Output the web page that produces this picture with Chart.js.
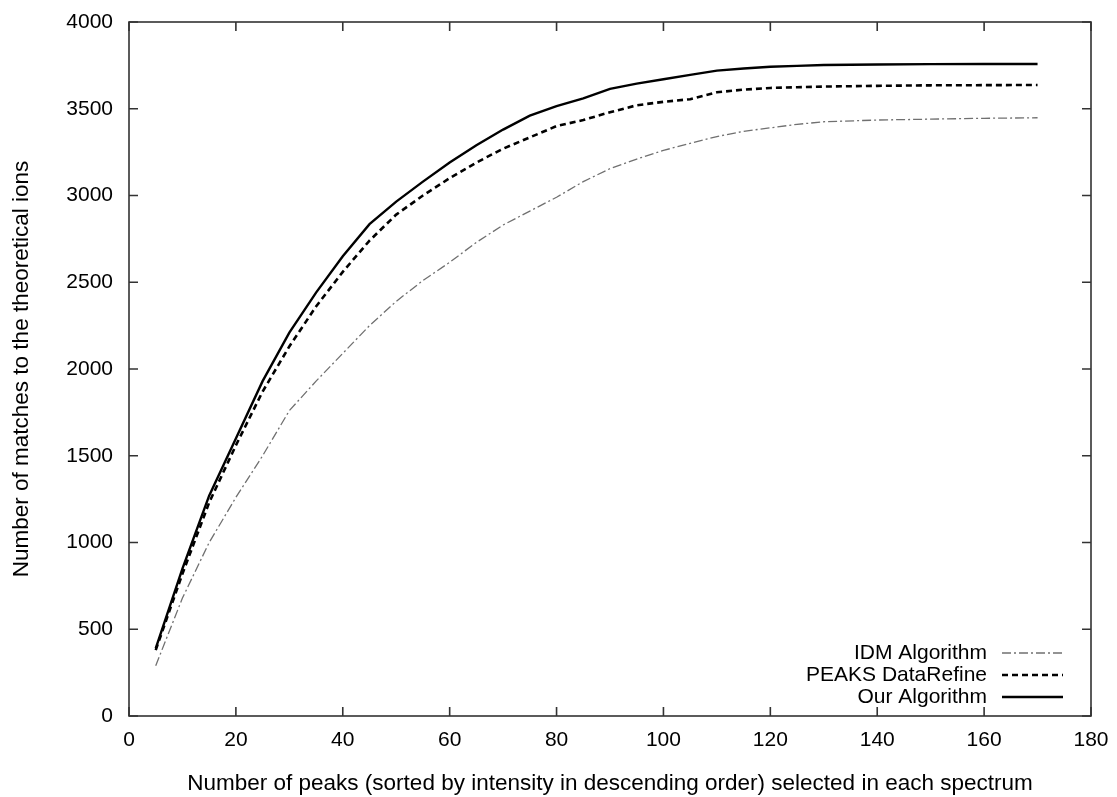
<!DOCTYPE html>
<html>
<head>
<meta charset="utf-8">
<script src="https://cdn.jsdelivr.net/npm/chart.js@4.4.1/dist/chart.umd.min.js"></script>
<style>
  html, body { margin: 0; padding: 0; background: #fff; }
  #wrap { width: 1117px; height: 797px; }
</style>
</head>
<body>
<div id="wrap"><canvas id="myChart"></canvas></div>
<script>
// data
const peaks = [5,10,15,20,25,30,35,40,45,50,55,60,65,70,75,80,85,90,95,100,105,110,115,120,125,130,140,150,160,170];

const idm = [290,680,1000,1260,1500,1760,1930,2090,2250,2390,2510,2615,2730,2830,2910,2990,3080,3155,3210,3260,3300,3340,3370,3390,3410,3425,3435,3440,3445,3448];
const peaksRefine = [380,820,1230,1560,1870,2130,2360,2560,2740,2890,3000,3100,3190,3270,3335,3400,3435,3480,3520,3540,3555,3595,3610,3620,3624,3628,3632,3635,3636,3637];
const ours = [390,850,1270,1600,1930,2210,2440,2650,2835,2965,3080,3190,3290,3380,3460,3515,3560,3615,3645,3670,3695,3720,3732,3742,3747,3752,3755,3757,3758,3758];

const xTicks = [0,20,40,60,80,100,120,140,160,180];
const yTicks = [0,500,1000,1500,2000,2500,3000,3500,4000];

const FONT = 'Liberation Sans, Arial, sans-serif';

function pts(ys) {
  return peaks.map((x, k) => ({x: x, y: ys[k]}));
}

const idm_dataset = {
  label: 'IDM Algorithm',
  data: pts(idm),
  borderColor: '#707070',
  borderWidth: 1.3,
  borderDash: [9, 3, 2, 3],
  pointRadius: 0,
  tension: 0
}

const peaks_dataset = {
  label: 'PEAKS DataRefine',
  data: pts(peaksRefine),
  borderColor: '#000',
  borderWidth: 2.6,
  borderDash: [6, 4],
  pointRadius: 0,
  tension: 0
}

const ours_dataset = {
  label: 'Our Algorithm',
  data: pts(ours),
  borderColor: '#000',
  borderWidth: 2.4,
  pointRadius: 0,
  tension: 0
}

// frame, inward ticks on all four sides, legend at lower right
const framePlugin = {
  id: 'frame',
  afterDatasetsDraw(chart) {
    const c = chart.ctx, a = chart.chartArea;
    const xs = chart.scales.x, ys = chart.scales.y;
    c.save();
    c.strokeStyle = '#333';
    c.lineWidth = 1.6;
    c.strokeRect(a.left, a.top, a.right - a.left, a.bottom - a.top);
    c.beginPath();
    xTicks.forEach(v => {
      const p = xs.getPixelForValue(v);
      c.moveTo(p, a.bottom); c.lineTo(p, a.bottom - 9);
      c.moveTo(p, a.top); c.lineTo(p, a.top + 9);
    });
    yTicks.forEach(v => {
      const p = ys.getPixelForValue(v);
      c.moveTo(a.left, p); c.lineTo(a.left + 9, p);
      c.moveTo(a.right, p); c.lineTo(a.right - 9, p);
    });
    c.stroke();

    // legend
    c.font = '21px ' + FONT;
    c.textAlign = 'right';
    c.textBaseline = 'middle';
    [0, 1, 2].forEach(k => {
      const ds = chart.data.datasets[k];
      const y = 653 + k * 22;
      c.fillStyle = '#000';
      c.fillText(ds.label, 987, y);
      c.beginPath();
      c.setLineDash(ds.borderDash || []);
      c.strokeStyle = ds.borderColor;
      c.lineWidth = ds.borderWidth;
      c.moveTo(1002, y); c.lineTo(1063, y);
      c.stroke();
    });
    c.restore();
  }
}

const ctx = document.getElementById('myChart');

const myChart = new Chart(ctx, {
  type: 'line',
  data: {
    datasets: [idm_dataset, peaks_dataset, ours_dataset]
  },
  plugins: [framePlugin],
  options: {
    responsive: true,
    maintainAspectRatio: false,
    animation: false,
    layout: { padding: { left: 0, right: 26, top: 22, bottom: 0 } },
    plugins: {
      legend: { display: false },
      tooltip: { enabled: false }
    },
    scales: {
      x: {
        type: 'linear',
        min: 0, max: 180,
        border: { display: false },
        grid: { display: false, drawTicks: false },
        afterBuildTicks(scale) { scale.ticks = xTicks.map(v => ({value: v})); },
        afterFit(scale) { scale.height = 81; scale.paddingLeft = 0; scale.paddingRight = 0; },
        ticks: {
          color: '#000',
          padding: 12,
          maxRotation: 0,
          font: { family: FONT, size: 21 }
        },
        title: {
          display: true,
          text: 'Number of peaks (sorted by intensity in descending order) selected in each spectrum',
          color: '#000',
          font: { family: FONT, size: 22.5 },
          padding: { top: 10, bottom: 0 }
        }
      },
      y: {
        type: 'linear',
        min: 0, max: 4000,
        border: { display: false },
        grid: { display: false, drawTicks: false },
        afterBuildTicks(scale) { scale.ticks = yTicks.map(v => ({value: v})); },
        afterFit(scale) { scale.width = 129; scale.paddingTop = 0; scale.paddingBottom = 0; },
        ticks: {
          color: '#000',
          padding: 16,
          font: { family: FONT, size: 21 },
          callback: v => String(v)
        },
        title: {
          display: true,
          text: 'Number of matches to the theoretical ions',
          color: '#000',
          font: { family: FONT, size: 22.5 },
          padding: { top: 8, bottom: 0 }
        }
      }
    }
  }
});
</script>
</body>
</html>
